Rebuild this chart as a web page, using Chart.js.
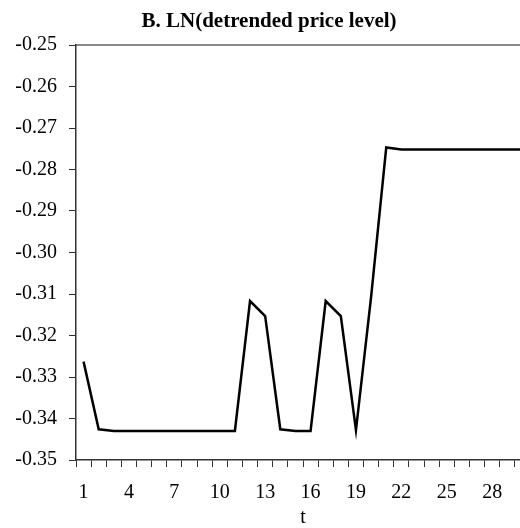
<!DOCTYPE html>
<html>
<head>
<meta charset="utf-8">
<script src="https://cdn.jsdelivr.net/npm/chart.js@4"></script>
<style>
  html, body { margin: 0; padding: 0; background: #fff; overflow: hidden; }
  #wrap { width: 540px; height: 528px; }
</style>
</head>
<body>
<div id="wrap"><canvas id="c"></canvas></div>
<script>
// periods t = 1..30 (the original is cut off at the right edge)
const periods = [1, 2, 3, 4, 5, 6, 7, 8, 9, 10, 11, 12, 13, 14, 15,
  16, 17, 18, 19, 20, 21, 22, 23, 24, 25, 26, 27, 28, 29, 30];
const lnPrice = [-0.3263, -0.3426, -0.3430, -0.3430, -0.3430, -0.3430, -0.3430, -0.3430,
  -0.3430, -0.3430, -0.3430, -0.3117, -0.3153, -0.3426, -0.3430, -0.3430, -0.3117,
  -0.3153, -0.3428, -0.3107, -0.2747, -0.2752, -0.2752, -0.2752, -0.2752, -0.2752,
  -0.2752, -0.2752, -0.2752, -0.2752];
const xTickLabels = [1, 4, 7, 10, 13, 16, 19, 22, 25, 28];
const yTicks = [-0.35, -0.34, -0.33, -0.32, -0.31, -0.30, -0.29, -0.28, -0.27, -0.26, -0.25];

const SERIF = '"Liberation Serif", "Times New Roman", serif';
const AXIS = '#333333';
const LABEL_FONT = { family: SERIF, size: 20 };

new Chart(document.getElementById('c').getContext('2d'), {
  type: 'line',
  data: {
    labels: periods,
    datasets: [{
      data: lnPrice,
      borderColor: '#000',
      borderWidth: 2.5,
      pointRadius: 0,
      tension: 0,
      fill: false,
    }],
  },
  options: {
    responsive: true,
    maintainAspectRatio: false,
    animation: false,
    layout: { padding: { left: 8, right: 10, top: 0, bottom: 0 } },
    plugins: {
      legend: { display: false },
      tooltip: { enabled: false },
      title: {
        display: true,
        text: 'B. LN(detrended price level)',
        color: '#000',
        font: { family: SERIF, size: 21, weight: 'bold', lineHeight: 1.2 },
        padding: { top: 9, bottom: 10.8 },
      },
    },
    scales: {
      x: {
        type: 'category',
        offset: true,
        afterFit: (s) => { s.height = 68; },
        grid: { display: true, drawOnChartArea: false, offset: true, tickLength: 7, color: AXIS, lineWidth: 1 },
        border: { color: AXIS, width: 1.5 },
        ticks: {
          autoSkip: false,
          maxRotation: 0,
          color: '#000',
          font: LABEL_FONT,
          padding: 14,
          callback: function (v) {
            const lab = this.getLabelForValue(v);
            return xTickLabels.includes(lab) ? String(lab) : '';
          },
        },
        title: { display: true, text: 't', color: '#000', font: { family: SERIF, size: 20, lineHeight: 1 }, padding: 0 },
      },
      x2: {
        type: 'linear',
        position: 'top',
        min: 0,
        max: 1,
        afterFit: (s) => { s.height = 0; },
        grid: { display: false, drawTicks: false },
        border: { color: '#888888', width: 2 },
        ticks: { display: false },
      },
      y: {
        min: -0.35,
        max: -0.25,
        afterFit: (s) => { s.width = 68; },
        afterBuildTicks: (s) => { s.ticks = yTicks.map((v) => ({ value: v })); },
        grid: { display: true, drawOnChartArea: false, tickLength: 7, color: AXIS, lineWidth: 1 },
        border: { color: AXIS, width: 1.5 },
        ticks: {
          color: '#000',
          font: LABEL_FONT,
          padding: 12,
          callback: (v) => v.toFixed(2),
        },
      },
    },
  },
});
</script>
</body>
</html>
